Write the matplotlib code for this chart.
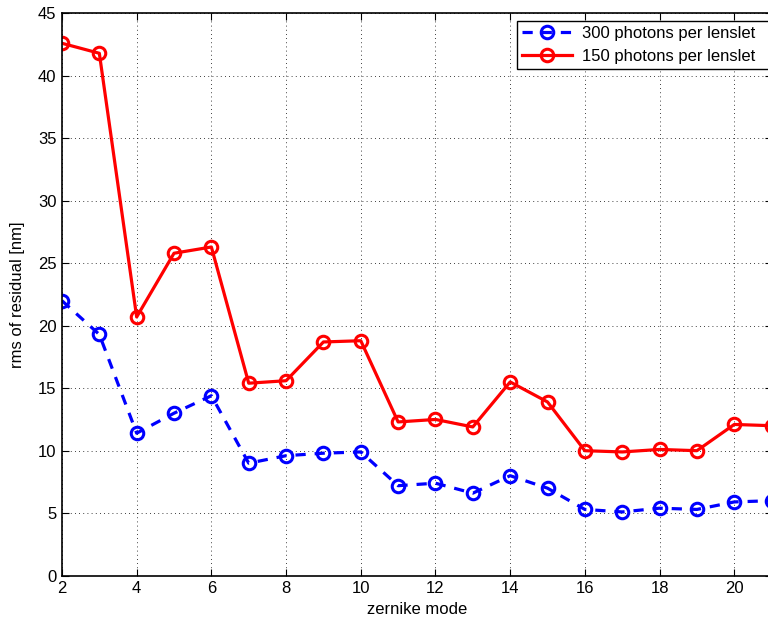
import matplotlib
matplotlib.use('Agg')
import matplotlib.pyplot as plt

plt.rcParams['font.family'] = ['Liberation Sans', 'DejaVu Sans']

modes = list(range(2, 22))
rms_300 = [22.0, 19.3, 11.4, 13.0, 14.4, 9.0, 9.6, 9.8, 9.9, 7.2,
           7.4, 6.6, 8.0, 7.0, 5.3, 5.1, 5.4, 5.3, 5.9, 6.0]
rms_150 = [42.6, 41.8, 20.7, 25.8, 26.3, 15.4, 15.6, 18.7, 18.8, 12.3,
           12.5, 11.9, 15.5, 13.9, 10.0, 9.9, 10.1, 10.0, 12.1, 12.0]
labels = ['300 photons per lenslet', '150 photons per lenslet']

fig = plt.figure(figsize=(7.68, 6.21), dpi=100)
ax = fig.add_axes([0.0807, 0.073, 0.924, 0.9056])

ax.plot(modes, rms_300, color='blue', linestyle=(0, (3.2, 2.8)), linewidth=2.3,
        marker='o', markersize=9, markerfacecolor='none', markeredgewidth=2.2,
        label=labels[0])
ax.plot(modes, rms_150, color='red', linestyle='-', linewidth=2.3,
        marker='o', markersize=9, markerfacecolor='none', markeredgewidth=2.2,
        label=labels[1])

ax.set_xlim(2, 21)
ax.set_ylim(0, 45)
ax.set_xticks(range(2, 21, 2))
ax.set_yticks(range(0, 46, 5))
ax.tick_params(direction='in', top=True, right=True, labelsize=12, length=5, pad=4)
ax.grid(True, color='black', linestyle=(0, (1, 4)), linewidth=0.6)
for s in ax.spines.values():
    s.set_linewidth(1.2)

ax.set_xlabel('zernike mode', fontsize=12)
ax.set_ylabel('rms of residual [nm]', fontsize=12)
ax.xaxis.set_label_coords(0.5, -0.046)
ax.yaxis.set_label_coords(-0.052, 0.5)

# legend box runs off the right edge of the figure
leg = ax.legend(loc='upper left', bbox_to_anchor=(0.641, 0.5, 0.37, 0.486),
                mode='expand', fontsize=12,
                fancybox=False, framealpha=1, edgecolor='black',
                borderpad=0.3, labelspacing=0.45, handlelength=3.0,
                handletextpad=0.6, borderaxespad=0.0)
leg.get_frame().set_linewidth(1.0)

fig.savefig('out.png', dpi=100)
